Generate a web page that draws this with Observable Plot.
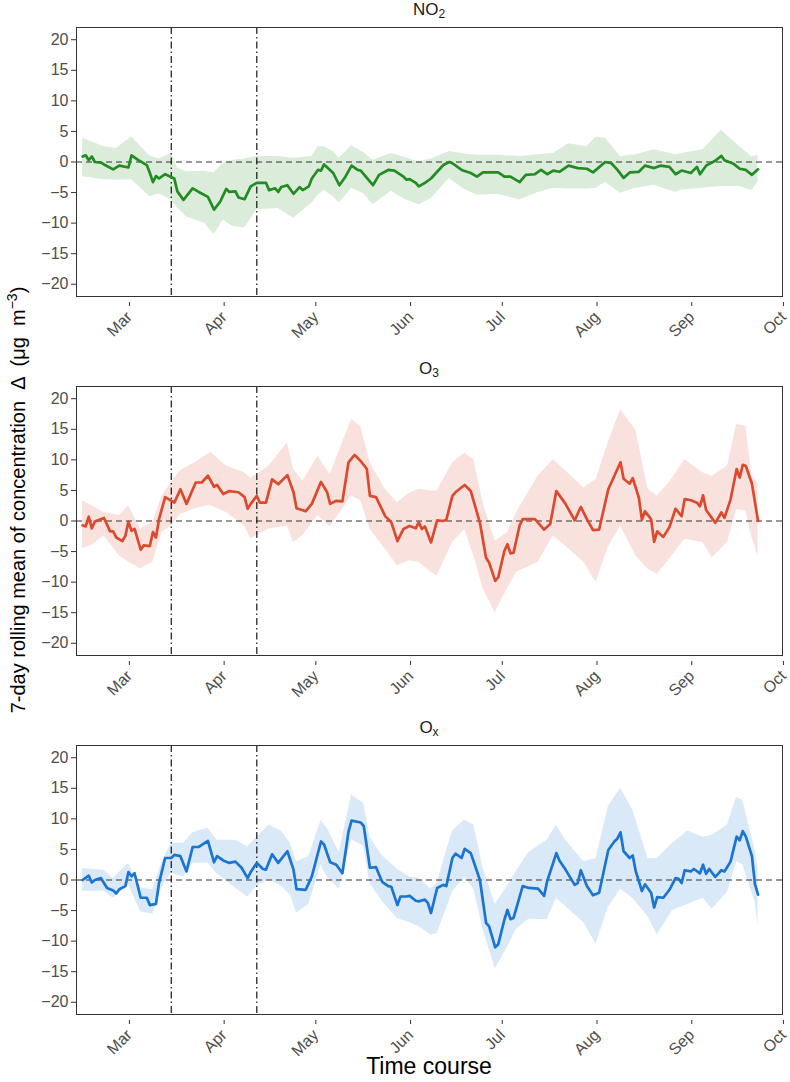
<!DOCTYPE html>
<html>
<head>
<meta charset="utf-8">
<script src="https://cdn.jsdelivr.net/npm/d3@7"></script>
<script src="https://cdn.jsdelivr.net/npm/@observablehq/plot@0.6"></script>
<style>
  html, body { margin: 0; padding: 0; background: #fff; }
  body { font-family: "Liberation Sans", Arial, sans-serif; }
  #wrap { position: relative; width: 790px; height: 1082px; overflow: hidden; }
  .panel { position: absolute; left: 0; }
  .ptitle { position: absolute; left: 76px; width: 706px; text-align: center; font-size: 17px; line-height: 19px; color: #1a1a1a; }
  .ptitle sub { font-size: 12px; vertical-align: -3px; line-height: 0; }
  #ylab { position: absolute; left: 18px; top: 500px; transform: translate(-50%, -50%) rotate(-90deg); white-space: nowrap; font-size: 20px; color: #000; }
  #ylab sup { font-size: 14px; vertical-align: 8px; line-height: 0; }
  #xlab { position: absolute; left: 76px; width: 706px; top: 1053px; text-align: center; font-size: 23px; line-height: 26px; color: #000; }
</style>
</head>
<body>
<div id="wrap"></div>
<script>
// ---- data (days counted from 2020-03-01) ----
const originYear = 2020;
const yTicks = [-20, -15, -10, -5, 0, 5, 10, 15, 20];
const monthLabels = ["Mar", "Apr", "May", "Jun", "Jul", "Aug", "Sep", "Oct"];
const lockdownDays = [15, 43];
const panelTitles = ["NO<sub>2</sub>", "O<sub>3</sub>", "O<sub>x</sub>"];

// NO2
const no2Days = [-14,-13,-12,-11,-10,-8,-7,-4,-2,1,2,4,7,8,9,10,11,13,16,17,19,22,24,27,29,31,33,34,36,37,39,41,43,46,47,49,50,51,53,55,57,58,60,61,63,64,65,68,70,72,74,76,77,81,83,86,88,91,92,93,95,96,98,100,102,104,106,107,110,113,115,117,122,124,126,129,131,134,136,138,140,142,145,148,151,153,157,159,161,163,165,168,170,173,175,178,180,182,185,187,188,190,193,195,196,199,201,203,205,207];
const no2Mean = [0.9,1.1,0.3,0.9,0,-0.1,-0.4,-1.2,-0.6,-0.9,1.1,0.4,-0.5,-1.8,-3.3,-2.3,-2.7,-2,-2.7,-4.8,-6.2,-4.3,-4.9,-5.7,-7.8,-6.5,-4.4,-4.9,-4.8,-5.8,-6.1,-4,-3.4,-3.4,-4.6,-4.3,-4.9,-4.1,-3.8,-5.2,-4.1,-4.6,-4,-2.7,-1.3,-1.4,-0.4,-1.8,-3.8,-2.4,-0.6,-1.3,-1.4,-3.8,-2.1,-1.3,-1.4,-2.4,-2.9,-2.8,-3.4,-4,-3.4,-2.7,-1.6,-0.5,0,-0.2,-1.3,-1.8,-2.4,-1.7,-1.7,-2.4,-2.4,-3.3,-2.1,-2,-1.3,-2,-1.4,-1.6,-0.6,-1,-1.1,-1.7,0,-0.2,-1.3,-2.6,-1.7,-1.6,-0.6,-1,-0.6,-0.8,-2,-1.4,-1.8,-0.8,-2,-0.6,0.2,1,0.3,-0.3,-1.1,-1.3,-2.1,-1.2];
const no2BandDays = [-14,-7,-3,2,8,11,15,17,20,26,29,32,35,39,43,50,55,61,63,65,68,70,74,78,81,87,91,96,100,106,111,115,122,129,135,140,145,151,154,157,162,167,173,180,182,189,195,201,205,207];
const no2Hi = [3.9,2.5,2.2,4.1,1.0,0.5,1.4,-1.0,-1.6,-1.5,-1.8,-0.2,0.3,0.5,0.9,0.9,0.6,0.9,2.5,2.5,1.7,0.6,2.7,1.5,0.3,1.4,0.8,0,0.5,1.7,1.3,1.1,1.1,0.9,1.2,1.4,3,2.5,4.1,3.9,0.9,1.2,2,1.2,1.4,2,5.2,2.5,0.8,1.1];
const no2Lo = [-2.4,-2.9,-3.0,-2.9,-5.7,-5.2,-6.2,-7.5,-9,-10,-11.9,-9.5,-10.5,-10.8,-7.8,-7.6,-9.2,-6.7,-5.5,-4.6,-5.7,-6.7,-4.3,-5.2,-7,-4.8,-6,-7,-6,-2.7,-4.5,-5.4,-5.3,-6.2,-5,-4.3,-4.4,-4.4,-4.3,-3.3,-5.1,-4.3,-3.8,-5,-4.6,-4.3,-4,-4,-4.7,-3.2];

// O3
const o3Days = [-14,-13,-12,-11,-10,-7,-5,-4,-3,-1,0,1,2,3,5,6,8,9,10,11,13,16,18,20,23,25,27,29,30,32,34,37,39,40,41,43,44,46,48,50,53,55,56,59,61,64,66,67,69,71,73,75,77,79,80,82,85,87,89,91,93,95,96,97,98,100,102,104,105,107,108,111,113,116,118,119,121,122,124,125,126,127,129,130,134,137,139,141,144,147,149,151,153,155,158,160,162,163,165,166,168,169,170,172,173,174,176,178,180,182,183,185,187,188,189,190,191,193,195,196,198,200,201,202,203,205,207];
const o3Mean = [-0.7,-0.9,0.7,-1.2,-0.1,0.5,-1.7,-1.7,-2.7,-3.3,-2.4,-0.1,-1.6,-1.3,-4.7,-4,-4.1,-1.8,-2.7,0.3,3.9,3,5.2,2.8,6.3,6.3,7.4,5.6,5.9,4.4,4.9,4.7,3.9,2,2.8,4.1,3,3,6.8,6,7.5,4.7,2.1,1.6,2.8,6.4,4.7,2.8,3.3,3.2,9.6,10.8,9.8,8.5,4.1,3.9,0.8,-0.2,-3.3,-1.3,-0.8,-1.2,-0.2,-1.3,-0.9,-3.5,0.1,0,0.2,4.1,4.7,5.9,4.9,-0.3,-6,-6.8,-9.8,-9.2,-4.9,-3.8,-5.3,-5.2,-0.7,0.3,0.3,-1.4,-0.5,4.9,2.8,0.1,2.3,0.3,-1.5,-1.4,5.2,7.4,9.6,6.9,6.1,7,3.8,0.2,1.6,0.3,-3.4,-1.7,-2.6,-1,2,0.8,3.6,3.4,3,2.4,4.2,1.8,1.1,-0.3,1.4,0.5,3.5,8.5,7.1,9.2,9,6.1,0];
const o3BandDays = [-14,-11,-7,-2,1,5,9,12,15,18,23,27,28,33,39,41,47,53,55,58,63,67,74,77,80,85,89,93,96,100,102,107,111,114,117,121,125,128,135,140,144,150,154,158,162,167,171,174,178,183,189,192,197,200,203,205,207];
const o3Hi = [3.3,2.5,1.4,0.9,2.5,-1.3,-0.2,4.1,6.3,8.2,9.6,10.9,11.2,9,7.9,7,9,12.8,8.5,6.5,10.6,7.6,16.6,15.5,9.6,5.2,3,4.6,5.2,4.9,4.9,9.5,11.1,10,3,-3.3,-1.9,1.4,7.3,10,8.2,5.4,6.8,12.8,18.2,14.9,5.2,4.1,6.3,10,7.9,7.3,9,15.8,15.5,7.3,6.2];
const o3Lo = [-4.5,-4,-2.4,-5.7,-6.7,-7.8,-6.7,-1.8,-0.8,1.1,2,2.5,2.5,1.4,-0.8,-2.9,-1.3,-0.8,-3.5,-2.4,0.9,-1,4.1,3.3,-1.3,-4.6,-7.3,-6.5,-6.8,-8.4,-9,-3.5,-1.4,-5.7,-11.1,-15,-11.1,-8.4,-6.8,-2.4,-4.1,-6.8,-10,-4.3,-0.8,-5.7,-7.9,-8.7,-6.3,-3,-3.5,-6,-3.5,1.9,1.6,-2.7,-5.7];

// Ox
const oxDays = [-14,-12,-11,-10,-8,-6,-4,-3,-2,0,1,2,3,5,7,8,10,11,13,15,16,18,20,22,24,27,29,30,32,34,36,38,40,41,43,45,46,48,50,53,55,56,59,61,64,65,67,69,71,73,74,77,78,80,82,84,86,87,89,90,92,93,95,96,98,99,100,102,104,105,107,108,110,111,113,116,118,119,121,122,124,125,126,127,130,132,135,137,138,141,142,144,147,148,149,151,153,155,158,160,161,162,163,165,166,167,169,170,172,173,174,176,178,180,181,182,183,185,186,188,189,190,191,193,195,196,198,200,201,202,203,205,206,207];
const oxMean = [0,0.7,-0.4,0,0.3,-1.3,-1.7,-2.2,-1.5,-1,1.3,0.6,1.1,-2.9,-2.9,-4.1,-3.9,-0.5,3.6,3.6,4.1,3.9,1.4,5.4,5.4,6.4,2.9,3.9,3.2,2.8,3,2,0.3,1.3,2.8,1.8,1.7,4.2,2.8,4.7,1.7,-1.5,-1.6,0.6,6.3,5.8,2.9,2.5,1.1,7.9,9.7,9.4,8.8,2,2.1,-0.3,-1,-1.1,-4.1,-2.7,-2.7,-2.6,-3.4,-3.5,-3.2,-3.8,-5.4,-1.3,-0.8,-1,3.6,4.3,3.6,5.1,4.4,0,-7,-7.6,-11,-10.5,-6.5,-4.9,-6.4,-6.2,-1,-1.3,-1.4,-2.6,-0.2,4.4,3.2,1.7,-0.8,-0.5,1.6,-1,-2.5,-2.1,4.9,6.3,6.8,7.8,4.7,3.6,4,1.4,-1.8,-0.7,-2.1,-4.5,-2.8,-2.9,-1.6,0.3,0.2,-0.5,1.6,1.4,1.8,1.1,2.5,1,1.8,0.5,1.6,1.4,3,7.1,6.5,8,7.1,3.9,-0.7,-2.4];
const oxBandDays = [-14,-7,-4,1,5,9,12,15,19,22,27,30,36,40,43,47,51,54,56,60,64,66,70,74,78,80,84,89,93,96,100,102,107,111,114,117,121,125,128,132,138,141,144,150,154,158,162,166,171,174,179,184,189,192,197,200,202,206,207];
const oxHi = [1.9,1.6,0.3,2.7,-1.3,-1.6,3,6,6,7.7,8.5,6.5,6.5,5.4,7,9,8,6,3,3.8,9.7,8.5,4.5,13.9,12.5,7,4,1.7,0.5,0.3,-1.5,-0.5,8,9.8,9,2,-4,-1,1.5,4.5,6.5,9,6.5,3,3.5,12,15,11.5,3.5,3.5,6,8,7,7.3,9,13.5,13,5,2];
const oxLo = [-1.9,-1.8,-3,-0.8,-5.2,-5.6,-1.1,1.1,0.5,2.7,2.8,1,-1.3,-2.8,-1,0,-1,-2.5,-5.4,-4,2.5,0.5,-1.5,6.6,5.5,-0.5,-3.5,-6.3,-7,-7.6,-9,-8.8,-2,0.5,-1.5,-8,-14.5,-11,-8,-6.4,-6.5,-3,-4.3,-7,-10.5,-4.5,-1.5,-3,-6,-9,-5,-4,-3,-4.8,-2,3,2.5,-3.5,-7.3];

const seriesColors = ["#228B22", "#D94A2E", "#1B74D0"];

// ---- helpers ----
const toDate = d => new Date(Date.UTC(originYear, 2, 1 + d));
const monthTicks = monthLabels.map((_, i) => new Date(Date.UTC(originYear, 2 + i, 1)));

const series = [
  {days: no2Days, mean: no2Mean, bandDays: no2BandDays, lo: no2Lo, hi: no2Hi},
  {days: o3Days, mean: o3Mean, bandDays: o3BandDays, lo: o3Lo, hi: o3Hi},
  {days: oxDays, mean: oxMean, bandDays: oxBandDays, lo: oxLo, hi: oxHi}
];

const wrap = document.getElementById("wrap");
const PANEL_H = 359;
const FONT = '"Liberation Sans", Arial, sans-serif';

series.forEach((s, k) => {
  const n = Math.min(s.days.length, s.mean.length);
  const line = d3.range(n).map(i => ({date: toDate(s.days[i]), v: s.mean[i]}));
  const m = Math.min(s.bandDays.length, s.lo.length, s.hi.length);
  const band = d3.range(m).map(i => ({date: toDate(s.bandDays[i]), lo: s.lo[i], hi: s.hi[i]}));
  const color = seriesColors[k];

  const chart = Plot.plot({
    width: 790,
    height: PANEL_H,
    marginLeft: 76,
    marginRight: 8,
    marginTop: 27,
    marginBottom: 63,
    style: {fontFamily: FONT, fontSize: "16px", background: "white", color: "#4d4d4d", overflow: "visible"},
    x: {type: "utc", domain: [toDate(-16), toDate(215)]},
    y: {domain: [-22, 22]},
    marks: [
      Plot.areaY(band, {x: "date", y1: "lo", y2: "hi", fill: color, fillOpacity: 0.16}),
      Plot.ruleY([0], {stroke: "#333", strokeWidth: 1, strokeDasharray: "6,4"}),
      Plot.ruleX(lockdownDays.map(toDate), {stroke: "#000", strokeWidth: 1.1, strokeDasharray: "7,3,1.5,3"}),
      Plot.line(line, {x: "date", y: "v", stroke: color, strokeWidth: 2.7, strokeLinejoin: "round"}),
      Plot.frame({stroke: "#333", strokeWidth: 1}),
      Plot.axisY({ticks: yTicks, tickSize: 5, tickPadding: 3, label: null, fontSize: 16, stroke: "#333", fill: "#4d4d4d"}),
      Plot.axisX({ticks: monthTicks, tickFormat: (d, i) => monthLabels[i], tickSize: 4, tickRotate: -45, label: null, fontSize: 16, stroke: "#333", fill: "#4d4d4d", dx: 4, dy: 6})
    ]
  });
  chart.classList.add("panel");
  chart.style.top = (k * PANEL_H) + "px";
  wrap.appendChild(chart);

  const t = document.createElement("div");
  t.className = "ptitle";
  t.style.top = (k * PANEL_H + 0) + "px";
  t.innerHTML = panelTitles[k];
  wrap.appendChild(t);
});

const yl = document.createElement("div");
yl.id = "ylab";
yl.innerHTML = "7-day rolling mean of concentration&nbsp; &Delta; &nbsp;(&mu;g&nbsp; m<sup>&minus;3</sup>)";
wrap.appendChild(yl);

const xl = document.createElement("div");
xl.id = "xlab";
xl.textContent = "Time course";
wrap.appendChild(xl);
</script>
</body>
</html>
